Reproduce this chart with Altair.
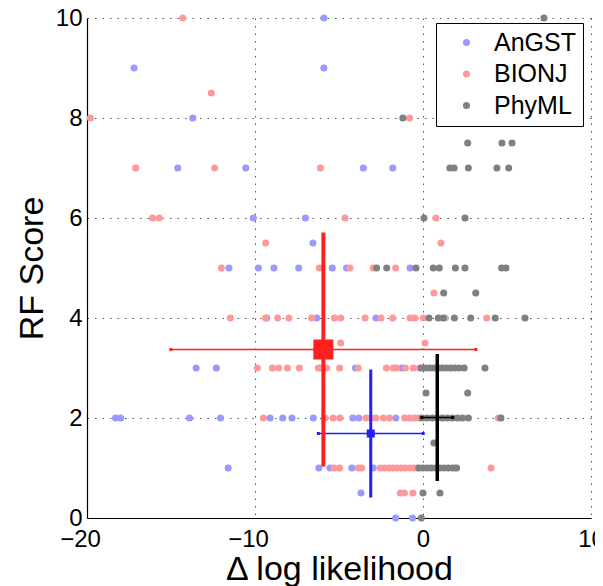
import altair as alt
import pandas as pd

# ---- scatter data, one row (RF score) per entry ----
angst_rows = [10, 9, 8, 7, 6, 5.5, 5, 4, 3, 2, 1, 0.5, 0]
angst_xs = [
    [-5.9],
    [-17.2, -5.9],
    [-13.7],
    [-14.6, -10.55, -3.55, -1.8],
    [-10.1, -7.0],
    [-6.55],
    [-11.55, -9.8, -8.87, -7.4, -5.4, -4.55, -0.77],
    [-9.3, -6.33, -2.8],
    [-13.5, -12.3, -4.02, -1.25],
    [-18.3, -18.0, -13.9, -12.05, -9.1, -8.35, -7.8, -6.53, -4.18, -3.82, -1.62],
    [-11.6, -6.2, -5.54, -4.24, -2.96, 1.9],
    [-3.69],
    [-1.63, -0.62],
]

bionj_rows = [10, 8.5, 8, 7, 6, 5.5, 5, 4.5, 4, 3.5, 3, 2, 1, 0.5]
bionj_xs = [
    [-14.3],
    [-12.6],
    [-19.8, -0.8],
    [-17.1, -12.4, -6.1],
    [-16.1, -15.7, -4.64, 0.77],
    [-9.37, 1.07],
    [-12.0, -6.17, -4.35, -2.96, -1.63],
    [0.65],
    [-11.47, -9.37, -8.65, -7.98, -6.63, -5.27, -4.9, -3.45, -2.5, -1.8, -0.77, -0.48, 0.02, 1.31, 3.79],
    [-4.9, 0.12],
    [-9.86, -8.96, -8.6, -8.07, -7.36, -6.23, -6.09, -5.73, -4.96, -3.86, -2.18, -1.77, -1.57, -1.05, -0.58, -0.22],
    [-9.5, -5.83, -5.35, -4.95, -3.4, -3.1, -2.8, -2.36, -2.0, -1.1, -0.8, -0.5, -0.25, 4.48],
    [-5.3, -4.96, -3.85, -3.65, -2.55, -2.3, -2.05, -1.8, -1.55, -1.3, -1.05, -0.8, -0.55, -0.35, 4.05],
    [-1.35, -1.1, -0.6],
]

phyml_rows = [10, 8, 7.5, 7, 6, 5, 4.5, 4, 3, 2.5, 2, 1.5, 1, 0.5, 0]
phyml_xs = [
    [7.2],
    [-1.2],
    [2.66, 4.7, 5.3],
    [1.6, 1.85, 2.7, 4.4, 5.1],
    [0.06, 2.5],
    [-2.76, -2.16, -0.42, 0.61, 0.97, 1.93, 2.5, 4.68, 4.94],
    [1.23, 3.14],
    [0.36, 0.91, 1.21, 1.87, 2.84, 4.3, 6.07],
    [-0.1, 0.15, 0.4, 0.65, 0.9, 1.15, 1.4, 1.65, 1.9, 2.15, 2.45, 3.69],
    [0.18, 2.66],
    [-0.05, 0.25, 0.55, 0.85, 1.15, 1.45, 1.75, 2.05, 2.35, 2.7, 4.64],
    [0.65],
    [-0.25, 0.0, 0.25, 0.5, 0.75, 1.0, 1.25, 1.5, 1.75, 2.0],
    [0.0, 1.01],
    [-0.1],
]

series_names = ["AnGST", "BIONJ", "PhyML"]
series_colors = ["#9999ff", "#ff9999", "#808080"]

# ---- mean +/- sd crosses ----
err_method = ["AnGST", "PhyML", "BIONJ"]
err_cx = [-3.11, 0.85, -5.93]
err_cy = [1.69, 2.01, 3.37]
err_xerr = [3.12, 0.92, 9.08]
err_yerr = [1.28, 1.27, 2.34]
err_color = ["#1f1fff", "#000000", "#ff1f1f"]
err_vwidth = [3, 3.5, 4]
err_square = [64, 9, 400]

rows = []
for name, ys, xss in [("AnGST", angst_rows, angst_xs),
                      ("BIONJ", bionj_rows, bionj_xs),
                      ("PhyML", phyml_rows, phyml_xs)]:
    for yv, xs in zip(ys, xss):
        for xv in xs:
            rows.append({"method": name, "dll": xv, "rf": yv})
pts = pd.DataFrame(rows)

err = pd.DataFrame({
    "method": err_method, "cx": err_cx, "cy": err_cy,
    "xerr": err_xerr, "yerr": err_yerr, "ec": err_color,
    "vw": err_vwidth, "sq": err_square,
})
err["xlo"] = err["cx"] - err["xerr"]
err["xhi"] = err["cx"] + err["xerr"]
err["ylo"] = err["cy"] - err["yerr"]
err["yhi"] = err["cy"] + err["yerr"]

xscale = alt.Scale(domain=[-20, 10], nice=False, zero=False)
yscale = alt.Scale(domain=[0, 10], nice=False, zero=False)

xaxis = alt.Axis(
    title="Δ log likelihood", values=[-20, -10, 0, 10], format="d",
    titleX=252, titleY=61, titleBaseline="alphabetic", titleAlign="center",
    labelPadding=9, labelFlush=False, labelOverlap=False,
    labelOffset={"condition": {"test": "datum.value < 0", "value": -7}, "value": 0},
)
yaxis = alt.Axis(
    title="RF Score", values=[0, 2, 4, 6, 8, 10], format="d",
    titleAngle=270, titleX=-45, titleY=250, titleBaseline="alphabetic",
    titleAlign="center", labelPadding=5, labelFlush=False, labelOverlap=False,
)

points = alt.Chart(pts).mark_circle(size=50, opacity=1).encode(
    x=alt.X("dll:Q", scale=xscale, axis=xaxis),
    y=alt.Y("rf:Q", scale=yscale, axis=yaxis),
    color=alt.Color("method:N",
                    scale=alt.Scale(domain=series_names, range=series_colors),
                    legend=alt.Legend(title=None, orient="none", legendX=349, legendY=5)),
)

base = alt.Chart(err)
hbar = base.mark_rule(strokeWidth=1.5).encode(
    x="xlo:Q", x2="xhi:Q", y="cy:Q",
    color=alt.Color("ec:N", scale=None),
)
caps_lo = base.mark_square(size=9, opacity=1).encode(
    x="xlo:Q", y="cy:Q", color=alt.Color("ec:N", scale=None))
caps_hi = base.mark_square(size=9, opacity=1).encode(
    x="xhi:Q", y="cy:Q", color=alt.Color("ec:N", scale=None))
vbar = base.mark_rule().encode(
    x="cx:Q", y="ylo:Q", y2="yhi:Q",
    color=alt.Color("ec:N", scale=None),
    strokeWidth=alt.StrokeWidth("vw:Q", scale=None),
)
centers = base.mark_square(opacity=1).encode(
    x="cx:Q", y="cy:Q",
    color=alt.Color("ec:N", scale=None),
    size=alt.Size("sq:Q", scale=None),
)

chart = alt.layer(points, hbar, caps_lo, caps_hi, vbar, centers).properties(
    width=504, height=500,
    autosize=alt.AutoSizeParams(type="none"),
    padding={"left": 79, "top": 10, "right": 4, "bottom": 68},
).configure(
    font="Liberation Sans",
).configure_view(
    stroke=None,
).configure_axis(
    labelFont="Liberation Sans", labelFontSize=24, labelColor="black",
    titleFont="Liberation Sans", titleFontSize=34, titleFontWeight="normal",
    titleColor="black",
    domainColor="black", domainWidth=1.2,
    tickSize=0,
    grid=True, gridColor="#555555", gridDash=[1.5, 6], gridWidth=1, gridOpacity=1,
).configure_legend(
    strokeColor="black", fillColor="white", padding=7,
    symbolType="circle", symbolSize=50, symbolStrokeWidth=0, symbolOpacity=1,
    labelFont="Liberation Sans", labelFontSize=25, labelColor="black",
    rowPadding=5.5, symbolOffset=11, labelOffset=15,
)

chart.save("out.html", embed_options={"renderer": "svg", "actions": False})
